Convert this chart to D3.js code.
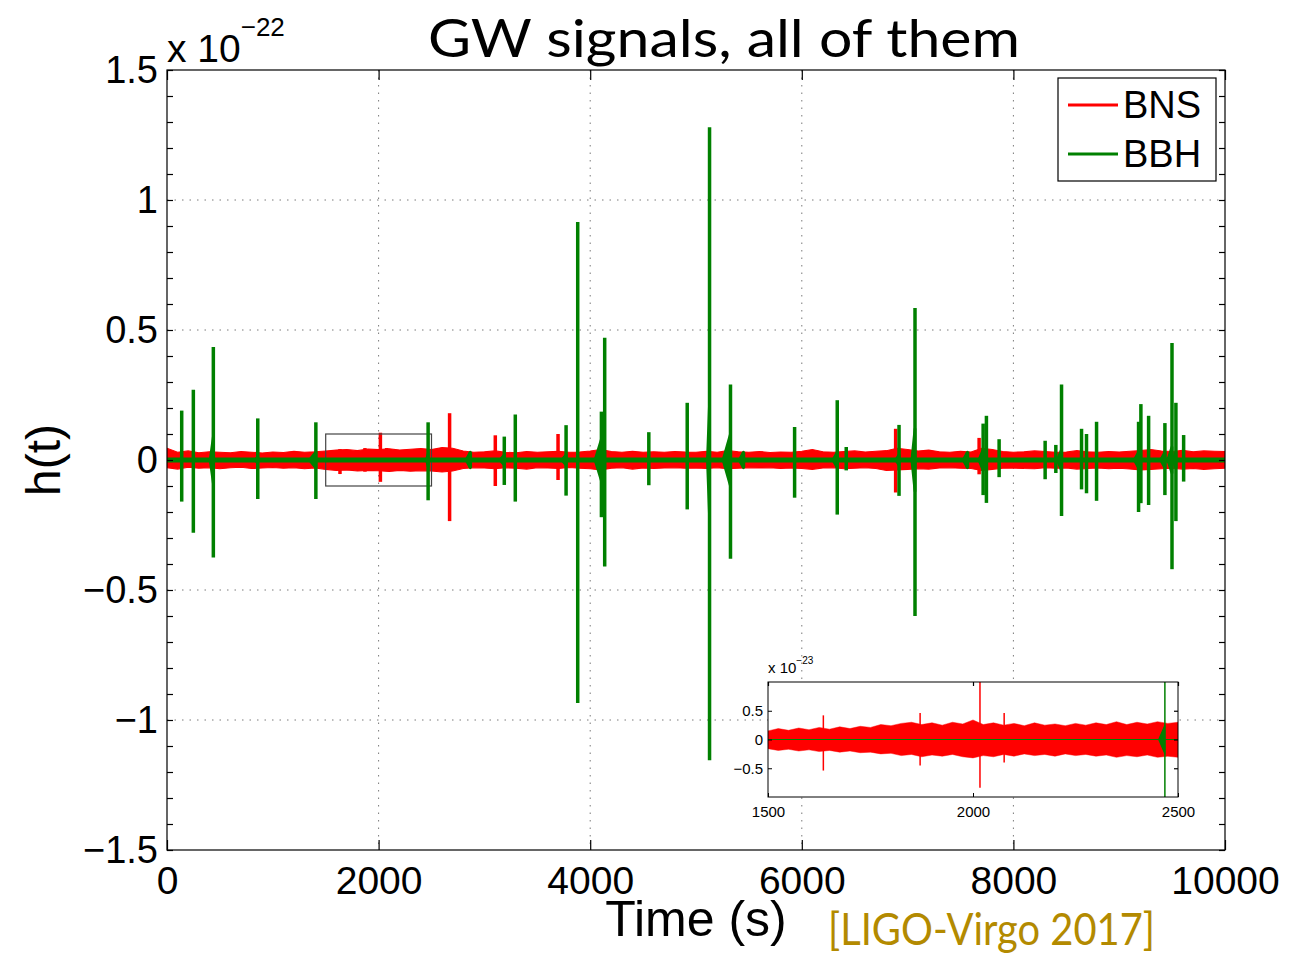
<!DOCTYPE html>
<html>
<head>
<meta charset="utf-8">
<script src="https://cdn.jsdelivr.net/npm/d3@7"></script>
<style>
  body { margin: 0; background: #fff; }
  text { font-family: "Liberation Sans", Arial, Helvetica, sans-serif; fill: #000; }
</style>
</head>
<body>
<svg id="chart" width="1310" height="956"></svg>
<script>
// ---- data (h in units of 1e-22, time in s) ----
const xTickValues = [0, 2000, 4000, 6000, 8000, 10000]
const yTickValues = [-1.5, -1, -0.5, 0, 0.5, 1, 1.5]
const insetXTicks = [1500, 2000, 2500]
const insetYTicks = [-0.05, 0, 0.05]

// BNS noise envelope, read every 100 s
const noiseTime = [0, 100, 200, 300, 400, 500, 600, 700, 800, 900, 1000, 1100, 1200, 1300, 1400,
  1500, 1600, 1700, 1800, 1900, 2000, 2100, 2200, 2300, 2400, 2500, 2600, 2700, 2800, 2900,
  3000, 3100, 3200, 3300, 3400, 3500, 3600, 3700, 3800, 3900, 4000, 4100, 4200, 4300, 4400,
  4500, 4600, 4700, 4800, 4900, 5000, 5100, 5200, 5300, 5400, 5500, 5600, 5700, 5800, 5900,
  6000, 6100, 6200, 6300, 6400, 6500, 6600, 6700, 6800, 6900, 7000, 7100, 7200, 7300, 7400,
  7500, 7600, 7700, 7800, 7900, 8000, 8100, 8200, 8300, 8400, 8500, 8600, 8700, 8800, 8900,
  9000, 9100, 9200, 9300, 9400, 9500, 9600, 9700, 9800, 9900, 10000]
const noiseHi = [0.045, 0.030, 0.035, 0.028, 0.032, 0.030,
  0.028, 0.033, 0.030, 0.027, 0.031, 0.029, 0.034, 0.030, 0.032,
  0.035, 0.038, 0.040, 0.036, 0.042, 0.040, 0.043, 0.038, 0.041, 0.044, 0.040,
  0.048, 0.045, 0.035, 0.030,
  0.032, 0.035, 0.030, 0.028, 0.033, 0.030, 0.032, 0.034, 0.030, 0.031,
  0.035, 0.040, 0.033, 0.030, 0.034, 0.030, 0.032, 0.030, 0.033, 0.031,
  0.030, 0.034, 0.030, 0.036, 0.032, 0.030, 0.033, 0.029, 0.031, 0.030,
  0.034, 0.040, 0.032, 0.030, 0.033, 0.035, 0.031, 0.034, 0.036, 0.045,
  0.040, 0.035, 0.038, 0.032, 0.030, 0.034, 0.031, 0.045, 0.040, 0.033,
  0.030, 0.032, 0.035, 0.033, 0.030, 0.031, 0.036, 0.032, 0.030, 0.033,
  0.031, 0.034, 0.036, 0.040, 0.035, 0.033, 0.037, 0.032, 0.035, 0.034, 0.033]
const noiseLo = [-0.030, -0.035, -0.028, -0.032, -0.030, -0.034,
  -0.030, -0.028, -0.033, -0.031, -0.029, -0.032, -0.030, -0.034, -0.031,
  -0.036, -0.040, -0.038, -0.042, -0.040, -0.041, -0.044, -0.040, -0.043, -0.041, -0.042,
  -0.046, -0.042, -0.033, -0.030,
  -0.031, -0.034, -0.030, -0.032, -0.035, -0.030, -0.031, -0.033, -0.029, -0.032,
  -0.034, -0.038, -0.032, -0.030, -0.035, -0.031, -0.033, -0.031, -0.030, -0.032,
  -0.031, -0.033, -0.030, -0.034, -0.032, -0.030, -0.031, -0.030, -0.033, -0.031,
  -0.033, -0.036, -0.031, -0.030, -0.034, -0.032, -0.030, -0.033, -0.040, -0.038,
  -0.036, -0.034, -0.035, -0.031, -0.030, -0.032, -0.033, -0.040, -0.036, -0.032,
  -0.031, -0.033, -0.034, -0.030, -0.032, -0.031, -0.035, -0.033, -0.031, -0.034,
  -0.032, -0.035, -0.038, -0.036, -0.034, -0.032, -0.035, -0.033, -0.036, -0.034, -0.032]

// finer BNS envelope for the zoomed inset (1500-2500 s), every 25 s
const insetTime = [1500, 1525, 1550, 1575, 1600, 1625, 1650, 1675, 1700, 1725, 1750, 1775, 1800, 1825,
  1850, 1875, 1900, 1925, 1950, 1975, 2000, 2025, 2050, 2075, 2100, 2125, 2150, 2175, 2200, 2225,
  2250, 2275, 2300, 2325, 2350, 2375, 2400, 2425, 2450, 2475, 2500]
const insetHi = [0.015, 0.019, 0.016, 0.020, 0.017, 0.021, 0.018, 0.022, 0.019, 0.023, 0.021, 0.026,
  0.024, 0.028, 0.030, 0.026, 0.029, 0.025, 0.030, 0.027, 0.034, 0.026, 0.029, 0.025, 0.028, 0.024,
  0.029, 0.025, 0.027, 0.024, 0.028, 0.025, 0.029, 0.026, 0.031, 0.026, 0.030, 0.027, 0.031, 0.028, 0.030]
const insetLo = [-0.016, -0.019, -0.017, -0.020, -0.018, -0.021, -0.019, -0.022, -0.020, -0.023, -0.022,
  -0.025, -0.024, -0.028, -0.026, -0.030, -0.027, -0.029, -0.026, -0.030, -0.032, -0.028, -0.030, -0.026,
  -0.029, -0.025, -0.028, -0.026, -0.029, -0.025, -0.028, -0.026, -0.029, -0.027, -0.031, -0.028, -0.030,
  -0.027, -0.031, -0.029, -0.031]

// BNS glitches above the noise
const bnsTime = [1635, 1871, 2017, 2076, 2671, 3103, 3696, 6887, 7676]
const bnsHi = [0.042, 0.046, 0.105, 0.046, 0.180, 0.095, 0.100, 0.120, 0.085]
const bnsLo = [-0.054, -0.045, -0.084, -0.040, -0.235, -0.100, -0.077, -0.125, -0.055]

// BBH events: merger time, peak max / min, inspiral amplitude and length
const bbhTime = [139, 249, 438, 858, 1407, 2468, 2867, 3188, 3292, 3772, 3882, 4106, 4137, 4554, 4917,
  5128, 5326, 5449, 5932, 6335, 6420, 6919, 7070, 7566, 7714, 7745, 7865, 8300, 8401, 8455,
  8644, 8691, 8786, 9183, 9205, 9278, 9432, 9499, 9536, 9609]
const bbhHi = [0.19, 0.27, 0.435, 0.16, 0.145, 0.145, 0.03, 0.09, 0.175, 0.134, 0.915, 0.186, 0.47, 0.107, 0.22,
  1.28, 0.29, 0.03, 0.127, 0.23, 0.05, 0.135, 0.585, 0.03, 0.14, 0.17, 0.08, 0.074, 0.058, 0.29,
  0.12, 0.10, 0.147, 0.147, 0.215, 0.17, 0.142, 0.45, 0.22, 0.096]
const bbhLo = [-0.16, -0.28, -0.375, -0.15, -0.15, -0.155, -0.03, -0.096, -0.16, -0.137, -0.935, -0.22, -0.41, -0.097, -0.19,
  -1.155, -0.38, -0.03, -0.145, -0.21, -0.04, -0.138, -0.60, -0.03, -0.135, -0.165, -0.066, -0.074, -0.05, -0.215,
  -0.113, -0.128, -0.157, -0.20, -0.166, -0.173, -0.135, -0.42, -0.235, -0.083]
const bbhChirp = [0, 0, 0.09, 0.01, 0.03, 0.025, 0.03, 0.02, 0, 0.02, 0, 0.08, 0.03, 0, 0,
  0.22, 0.10, 0.03, 0, 0.03, 0, 0.02, 0.12, 0.03, 0.04, 0, 0, 0, 0, 0.04,
  0, 0, 0, 0.03, 0, 0, 0.03, 0.05, 0.03, 0]
const bbhChirpDur = [0, 0, 30, 30, 60, 15, 40, 40, 0, 40, 0, 60, 30, 0, 0,
  20, 70, 40, 0, 40, 0, 30, 30, 40, 40, 0, 0, 0, 0, 40,
  0, 0, 0, 40, 0, 0, 40, 40, 30, 0]

const RED = '#ff0000'
const GREEN = '#008000'

document.addEventListener("DOMContentLoaded", () => {

  const svg = d3.select('#chart')

  const MAIN = { left: 167, right: 1225, top: 70, bottom: 850 }
  const INSET = { left: 768, right: 1178, top: 682, bottom: 797 }

  const x = d3.scaleLinear().domain([0, 10000]).range([MAIN.left, MAIN.right])
  const y = d3.scaleLinear().domain([-1.5, 1.5]).range([MAIN.bottom, MAIN.top])

  const noise = noiseTime.map((t, i) => ({ t: t, hi: noiseHi[i], lo: noiseLo[i] }))
  const insetNoise = insetTime.map((t, i) => ({ t: t, hi: insetHi[i], lo: insetLo[i] }))
  const bns = bnsTime.map((t, i) => ({ t: t, hi: bnsHi[i], lo: bnsLo[i] }))
  const bbh = bbhTime.map((t, i) => ({ t: t, hi: bbhHi[i], lo: bbhLo[i], amp: bbhChirp[i], dur: bbhChirpDur[i] }))

  const defs = svg.append('defs')
  defs.append('clipPath').attr('id', 'clip-main').append('rect')
    .attr('x', MAIN.left).attr('y', MAIN.top)
    .attr('width', MAIN.right - MAIN.left).attr('height', MAIN.bottom - MAIN.top)
  defs.append('clipPath').attr('id', 'clip-inset').append('rect')
    .attr('x', INSET.left).attr('y', INSET.top)
    .attr('width', INSET.right - INSET.left).attr('height', INSET.bottom - INSET.top)

  // BNS: noise band plus glitches
  function drawBNS(g, envelope, xs, ys, lw) {
    const env = d3.area().x(d => xs(d.t)).y0(d => ys(d.lo)).y1(d => ys(d.hi))
    g.append('path')
      .datum(envelope)
      .attr('d', env)
      .attr('fill', RED)
      .attr('stroke', RED)
      .attr('stroke-width', lw * 0.3)
    g.selectAll('.bns')
      .data(bns)
      .enter()
      .append('line')
      .attr('x1', d => xs(d.t)).attr('x2', d => xs(d.t))
      .attr('y1', d => ys(d.hi)).attr('y2', d => ys(d.lo))
      .attr('stroke', RED)
      .attr('stroke-width', lw)
  }

  // BBH: flat zero line, inspiral wedge, merger spike
  function drawBBH(g, xs, ys, lw, baseW) {
    g.append('line')
      .attr('x1', xs.range()[0]).attr('x2', xs.range()[1])
      .attr('y1', ys(0)).attr('y2', ys(0))
      .attr('stroke', GREEN)
      .attr('stroke-width', baseW)
    const wedge = d3.line().x(d => xs(d[0])).y(d => ys(d[1]))
    g.selectAll('.chirp')
      .data(bbh.filter(d => d.amp > 0))
      .enter()
      .append('path')
      .attr('d', d => wedge([[d.t - d.dur, 0], [d.t, d.amp], [d.t, -d.amp]]) + 'Z')
      .attr('fill', GREEN)
      .attr('stroke', GREEN)
      .attr('stroke-width', lw * 0.8)
      .attr('stroke-linejoin', 'round')
    g.selectAll('.merger')
      .data(bbh)
      .enter()
      .append('line')
      .attr('x1', d => xs(d.t)).attr('x2', d => xs(d.t))
      .attr('y1', d => ys(d.hi)).attr('y2', d => ys(d.lo))
      .attr('stroke', GREEN)
      .attr('stroke-width', lw)
  }

  // ---- grid ----
  const grid = svg.append('g')
    .attr('stroke', '#7a7a7a').attr('stroke-width', 1).attr('stroke-dasharray', '1.5,6')
  grid.selectAll('.gx')
    .data(xTickValues.slice(1, -1))
    .enter().append('line')
    .attr('x1', d => x(d)).attr('x2', d => x(d))
    .attr('y1', MAIN.top).attr('y2', MAIN.bottom)
  grid.selectAll('.gy')
    .data(yTickValues.slice(1, -1))
    .enter().append('line')
    .attr('x1', MAIN.left).attr('x2', MAIN.right)
    .attr('y1', d => y(d)).attr('y2', d => y(d))

  // ---- main data ----
  const plot = svg.append('g').attr('clip-path', 'url(#clip-main)')
  drawBNS(plot.append('g'), noise, x, y, 3.5)

  // zoom marker box
  plot.append('rect')
    .attr('x', x(insetXTicks[0])).attr('y', y(0.1))
    .attr('width', x(insetXTicks[2]) - x(insetXTicks[0]))
    .attr('height', y(-0.1) - y(0.1))
    .attr('fill', 'none').attr('stroke', '#444').attr('stroke-width', 1.2)

  drawBBH(plot.append('g'), x, y, 3.5, 5)

  // ---- frame and ticks ----
  svg.append('rect')
    .attr('x', MAIN.left).attr('y', MAIN.top)
    .attr('width', MAIN.right - MAIN.left).attr('height', MAIN.bottom - MAIN.top)
    .attr('fill', 'none').attr('stroke', '#000').attr('stroke-width', 1.2)

  const yMinor = d3.range(-15, 16).map(d => d / 10)

  function cleanAxis(g) {
    g.attr('font-size', null).attr('font-family', null)
    g.select('.domain').remove()
    g.selectAll('line').attr('stroke-width', 1.2)
  }

  const xb = svg.append('g')
    .attr('transform', `translate(0, ${MAIN.bottom})`)
    .call(d3.axisBottom(x).tickValues(xTickValues).tickSize(-10).tickPadding(16).tickFormat(d3.format('d')))
  cleanAxis(xb)
  xb.selectAll('text').style('font-size', '39px')

  const xt = svg.append('g')
    .attr('transform', `translate(0, ${MAIN.top})`)
    .call(d3.axisTop(x).tickValues(xTickValues).tickSize(-10).tickFormat(''))
  cleanAxis(xt)

  const yl = svg.append('g')
    .attr('transform', `translate(${MAIN.left}, 0)`)
    .call(d3.axisLeft(y).tickValues(yMinor).tickSize(-6).tickFormat(''))
  cleanAxis(yl)
  const yr = svg.append('g')
    .attr('transform', `translate(${MAIN.right}, 0)`)
    .call(d3.axisRight(y).tickValues(yMinor).tickSize(-6).tickFormat(''))
  cleanAxis(yr)

  const ylab = svg.append('g')
    .attr('transform', `translate(${MAIN.left}, 0)`)
    .call(d3.axisLeft(y).tickValues(yTickValues).tickSize(0).tickPadding(9).tickFormat(d3.format('~g')))
  cleanAxis(ylab)
  ylab.selectAll('text').style('font-size', '38px')

  // exponent
  const expo = svg.append('text').attr('x', 167).attr('y', 62).style('font-size', '39px')
  expo.append('tspan').text('x 10')
  expo.append('tspan').attr('dy', -26).style('font-size', '26px').text('\u221222')

  // axis labels and title
  svg.append('text')
    .attr('x', 696).attr('y', 936)
    .attr('text-anchor', 'middle')
    .style('font-size', '50px')
    .text('Time (s)')
  svg.append('text')
    .attr('transform', 'translate(60, 460) rotate(-90)')
    .attr('text-anchor', 'middle')
    .style('font-size', '48px')
    .text('h(t)')
  svg.append('text')
    .attr('x', 724).attr('y', 57)
    .attr('text-anchor', 'middle')
    .attr('textLength', 592).attr('lengthAdjust', 'spacingAndGlyphs')
    .style('font-family', 'Lato, "Open Sans", sans-serif')
    .style('font-size', '52px')
    .text('GW signals, all of them')
  svg.append('text')
    .attr('x', 828).attr('y', 945)
    .attr('textLength', 327).attr('lengthAdjust', 'spacingAndGlyphs')
    .style('font-family', 'Lato, "Open Sans", sans-serif')
    .style('font-size', '44px')
    .style('fill', '#b38a00')
    .text('[LIGO-Virgo 2017]')

  // ---- legend ----
  const legend = svg.append('g')
  legend.append('rect')
    .attr('x', 1058).attr('y', 78).attr('width', 158).attr('height', 103)
    .attr('fill', '#fff').attr('stroke', '#000').attr('stroke-width', 1.2)
  const legendItems = [{ name: 'BNS', color: RED }, { name: 'BBH', color: GREEN }]
  legendItems.forEach((d, i) => {
    legend.append('line')
      .attr('x1', 1068).attr('x2', 1118)
      .attr('y1', 105 + i * 49).attr('y2', 105 + i * 49)
      .attr('stroke', d.color).attr('stroke-width', 3)
    legend.append('text')
      .attr('x', 1123).attr('y', 118 + i * 49)
      .style('font-size', '38px')
      .text(d.name)
  })

  // ---- inset ----
  const xi = d3.scaleLinear().domain([1500, 2500]).range([INSET.left, INSET.right])
  const yi = d3.scaleLinear().domain([-0.1, 0.1]).range([INSET.bottom, INSET.top])

  svg.append('rect')
    .attr('x', INSET.left).attr('y', INSET.top)
    .attr('width', INSET.right - INSET.left).attr('height', INSET.bottom - INSET.top)
    .attr('fill', '#fff')

  const inset = svg.append('g').attr('clip-path', 'url(#clip-inset)')
  drawBNS(inset.append('g'), insetNoise, xi, yi, 1.5)
  drawBBH(inset.append('g'), xi, yi, 1.5, 1)

  svg.append('rect')
    .attr('x', INSET.left).attr('y', INSET.top)
    .attr('width', INSET.right - INSET.left).attr('height', INSET.bottom - INSET.top)
    .attr('fill', 'none').attr('stroke', '#000').attr('stroke-width', 1)

  const ixb = svg.append('g')
    .attr('transform', `translate(0, ${INSET.bottom})`)
    .call(d3.axisBottom(xi).tickValues(insetXTicks).tickSize(-4).tickPadding(9).tickFormat(d3.format('d')))
  cleanAxis(ixb)
  ixb.selectAll('line').attr('stroke-width', 1)
  ixb.selectAll('text').style('font-size', '15px')
  const ixt = svg.append('g')
    .attr('transform', `translate(0, ${INSET.top})`)
    .call(d3.axisTop(xi).tickValues(insetXTicks).tickSize(-4).tickFormat(''))
  cleanAxis(ixt)
  const iyl = svg.append('g')
    .attr('transform', `translate(${INSET.left}, 0)`)
    .call(d3.axisLeft(yi).tickValues(insetYTicks).tickSize(-4).tickPadding(5).tickFormat(d => d3.format('~g')(Math.round(d * 100) / 10)))
  cleanAxis(iyl)
  iyl.selectAll('line').attr('stroke-width', 1)
  iyl.selectAll('text').style('font-size', '15px')
  const iyr = svg.append('g')
    .attr('transform', `translate(${INSET.right}, 0)`)
    .call(d3.axisRight(yi).tickValues(insetYTicks).tickSize(-4).tickFormat(''))
  cleanAxis(iyr)

  const iexpo = svg.append('text').attr('x', 768).attr('y', 673).style('font-size', '15px')
  iexpo.append('tspan').text('x 10')
  iexpo.append('tspan').attr('dy', -9).style('font-size', '10px').text('\u221223')
})
</script>
</body>
</html>
